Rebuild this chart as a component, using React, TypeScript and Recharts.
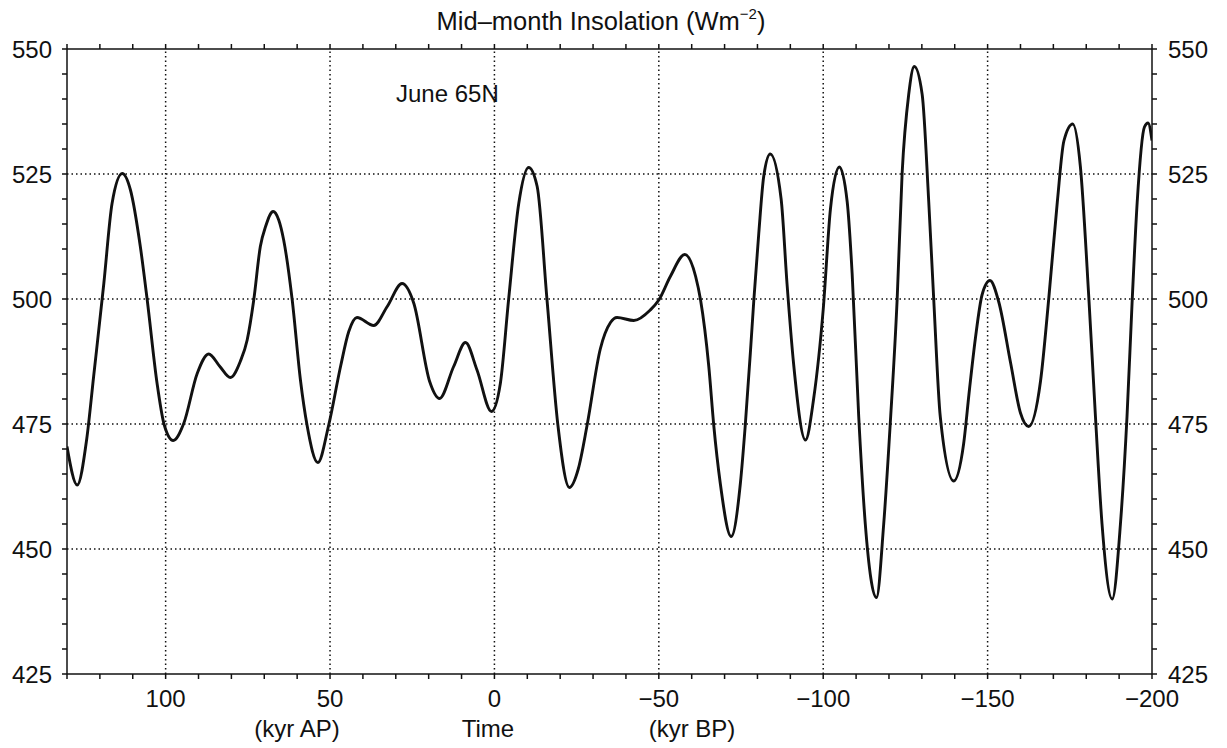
import { LineChart, Line, XAxis, YAxis, ReferenceLine } from 'recharts'

// time in kyr (positive = after present, negative = before present)
const kyr = [
    130, 126.9, 124, 121.9, 118.8, 116.3, 113.2, 110.7, 107.7, 105.6, 102.6, 100.5, 97.7, 94.5, 90.4,
    86.9, 83.5, 80.3, 77.3, 75.2, 73.2, 71.2, 69.6, 67.3, 65.6, 64.1, 61.5, 59, 57, 53.7, 50.4, 46.8, 44.3, 41.8,
    36.7, 32.6, 28.1, 24.5, 19.7, 16.7, 12.4, 8.8, 5.3, 0.9, -1.8, -4.3, -7.4, -10.4, -13, -16, -19.3,
    -22.8, -25.5, -28.2, -32.2, -35.3, -37.3, -42.4, -47.4, -50, -53.5, -57.9, -61.2, -62.7, -65.2,
    -66.7, -68.7, -72, -74.8, -76.3, -77.9, -78.9, -80.4, -81.9, -83.9, -87.2, -89, -91, -94.6, -97.1,
    -100, -102.2, -104.9, -107.3, -108.8, -110.8, -112.8, -116.2, -118.4, -120.4, -122.5, -124, -126,
    -127.7, -130.1, -132.1, -133.6, -135.6, -139.7, -142.7, -144.5, -146.3, -148.3, -150.7, -153.4,
    -157, -160, -162.5, -166.1, -168.6, -171.2, -173.2, -175.9, -178.2, -180.8, -182.8, -184.8,
    -187.9, -190.4, -192.4, -194, -195.5, -197.7, -198.8, -200,
]

// June 65N mid-month insolation (W/m2)
const insolation = [
    470.5, 462.8, 472, 484.5, 503.1, 519.1, 525.1, 521.8, 510.5, 499.8, 483.1, 475, 471.7, 475.1, 485.1,
    489, 486.5, 484.3, 487.5, 491.8, 499.8, 510.5, 514.5, 517.5, 515.8, 511.8, 499.8, 483.8, 474.8, 467.3, 474.8,
    486.5, 493.5, 496.3, 494.7, 498.5, 503.1, 499.1, 483.5, 480.1, 486.5, 491.3, 485.8, 477.5, 483.1,
    499.8, 519.1, 526.3, 522.5, 499.8, 474.8, 462.3, 466, 474.8, 490, 495.3, 496.3, 495.7, 497.8,
    499.8, 504.5, 508.9, 504.5, 499.8, 486.5, 474.8, 463.1, 452.5, 463.1, 474.8, 489.8, 499.8, 513.1,
    524.5, 529, 520, 503, 487, 471.8, 480.1, 497.9, 518, 526.4, 519.4, 505.1, 476.5, 455, 440.3, 455,
    475.2, 500.1, 525.1, 540.9, 546.5, 540.9, 519.4, 500.1, 476.5, 463.6, 471, 482, 492.2, 500.8,
    503.7, 499.4, 487.2, 477.2, 474.5, 483.6, 500.1, 519.4, 531.6, 535, 526.6, 500.1, 476.5, 455,
    440, 455, 476.5, 500.1, 519.4, 534.4, 535.2, 531.7,
]

const xTicks = [
    130, 120, 110, 100, 90, 80, 70, 60, 50, 40, 30, 20, 10, 0, -10, -20, -30, -40, -50, -60, -70, -80,
    -90, -100, -110, -120, -130, -140, -150, -160, -170, -180, -190, -200,
]
const yTicks = [425, 430, 435, 440, 445, 450, 455, 460, 465, 470, 475, 480, 485, 490, 495, 500, 505, 510, 515, 520, 525, 530, 535, 540, 545, 550]
const xGrid = [100, 50, 0, -50, -100, -150]
const yGrid = [450, 475, 500, 525]

const data = kyr.map((t, i) => ({ t, v: insolation[i] }))

const FONT = '"Liberation Sans", Arial, Helvetica, sans-serif'
const INK = '#111'

const fmtX = (v: number) => (v % 50 === 0 ? String(v).replace('-', '\u2212') : '')
const fmtY = (v: number) => (v % 25 === 0 ? String(v) : '')

const tickStyle = { fill: INK, fontSize: 24, fontFamily: FONT }

export default function App() {
    return (
        <div style={{ position: 'absolute', left: 0, top: 0, width: 1227, height: 748, background: '#fff' }}>
            <LineChart width={1227} height={748} data={data} margin={{ top: 39, right: 15, left: 7, bottom: 34 }}>
                <XAxis
                    xAxisId="bottom"
                    dataKey="t"
                    type="number"
                    domain={[-200, 130]}
                    reversed
                    ticks={xTicks}
                    interval={0}
                    tickFormatter={fmtX}
                    tickSize={5}
                    tickMargin={11}
                    height={40}
                    stroke={INK}
                    strokeWidth={1.5}
                    tick={tickStyle}
                    allowDataOverflow
                />
                <XAxis
                    xAxisId="top"
                    orientation="top"
                    dataKey="t"
                    type="number"
                    domain={[-200, 130]}
                    reversed
                    ticks={xTicks}
                    interval={0}
                    tickFormatter={() => ''}
                    tickSize={5}
                    height={10}
                    stroke={INK}
                    strokeWidth={1.5}
                    allowDataOverflow
                />
                <YAxis
                    yAxisId="left"
                    type="number"
                    domain={[425, 550]}
                    ticks={yTicks}
                    interval={0}
                    tickFormatter={fmtY}
                    tickSize={5}
                    tickMargin={10}
                    width={60}
                    stroke={INK}
                    strokeWidth={1.5}
                    tick={tickStyle}
                    allowDataOverflow
                />
                <YAxis
                    yAxisId="right"
                    orientation="right"
                    type="number"
                    domain={[425, 550]}
                    ticks={yTicks}
                    interval={0}
                    tickFormatter={fmtY}
                    tickSize={5}
                    tickMargin={11}
                    width={60}
                    stroke={INK}
                    strokeWidth={1.5}
                    tick={tickStyle}
                    allowDataOverflow
                />
                {xGrid.map((x) => (
                    <ReferenceLine key={'gx' + x} x={x} xAxisId="bottom" yAxisId="left" stroke={INK} strokeWidth={1.5} strokeDasharray="1.5 3" />
                ))}
                {yGrid.map((y) => (
                    <ReferenceLine key={'gy' + y} y={y} xAxisId="bottom" yAxisId="left" stroke={INK} strokeWidth={1.5} strokeDasharray="1.5 3" />
                ))}
                <Line
                    xAxisId="bottom"
                    yAxisId="left"
                    type="monotone"
                    dataKey="v"
                    stroke={INK}
                    strokeWidth={2.9}
                    dot={false}
                    isAnimationActive={false}
                />
            </LineChart>
            <svg width={1227} height={748} style={{ position: 'absolute', left: 0, top: 0, pointerEvents: 'none' }}>
                <g fontFamily={FONT} fill={INK} fontSize={24}>
                    <text x={601} y={30} textAnchor="middle" fontSize={25.5}>
                        Mid{'\u2013'}month Insolation (Wm<tspan dy={-11} fontSize={15}>{'\u2212'}2</tspan>
                        <tspan dy={11}>)</tspan>
                    </text>
                    <text x={396} y={102}>June 65N</text>
                    <text x={297} y={737} textAnchor="middle">(kyr AP)</text>
                    <text x={488} y={737} textAnchor="middle">Time</text>
                    <text x={692} y={737} textAnchor="middle">(kyr BP)</text>
                </g>
            </svg>
        </div>
    )
}
